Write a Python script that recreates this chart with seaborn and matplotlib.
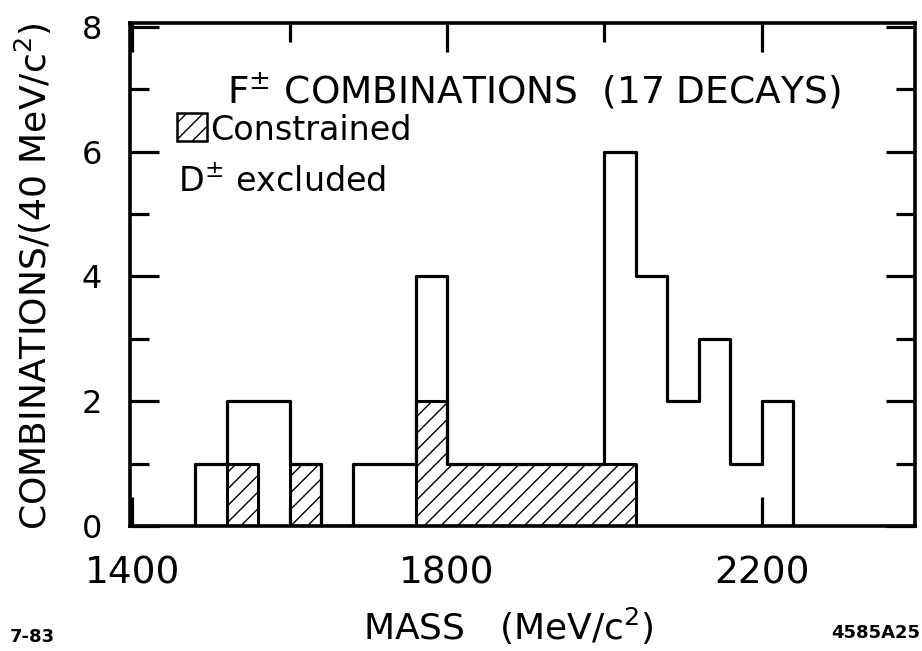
import numpy as np
import pandas as pd
import matplotlib
matplotlib.use("Agg")
import matplotlib.pyplot as plt
import seaborn as sns
from matplotlib.patches import Rectangle
from matplotlib.ticker import FixedLocator

# ---- data ----
bin_low = [1480, 1520, 1560, 1600, 1640, 1680, 1720, 1760, 1800, 1840,
           1880, 1920, 1960, 2000, 2040, 2080, 2120, 2160, 2200]
bin_width = 40
all_counts = [1, 2, 2, 1, 0, 1, 1, 4, 1, 1, 1, 1, 1, 6, 4, 2, 3, 1, 2]
constrained_counts = [0, 1, 0, 1, 0, 0, 0, 2, 1, 1, 1, 1, 1, 1, 0, 0, 0, 0, 0]
x_major_ticks = [1400, 1800, 2200]
x_minor_ticks = [1600, 2000]
y_major_ticks = [0, 2, 4, 6, 8]
y_minor_ticks = [1, 3, 5, 7]

sns.set_style("ticks")
plt.rcParams['font.family'] = ['DejaVu Sans']
plt.rcParams['hatch.linewidth'] = 1.0
plt.rcParams['mathtext.fontset'] = 'dejavusans'
for k in ['text.color', 'axes.labelcolor', 'xtick.color', 'ytick.color', 'axes.edgecolor']:
    plt.rcParams[k] = 'black'

df = pd.DataFrame({
    "mass": np.array(bin_low) + bin_width / 2,
    "all": all_counts,
    "constrained": constrained_counts,
})
edges = list(bin_low) + [bin_low[-1] + bin_width]

fig = plt.figure(figsize=(9.22, 6.51), dpi=100)
ax = fig.add_axes([130 / 922, 1 - 526 / 651, (915 - 130) / 922, (526 - 23) / 651])

sns.histplot(data=df, x="mass", weights="constrained", bins=edges,
             element="step", fill=True, color="black", facecolor="white",
             edgecolor="black", hatch="//", linewidth=2.2, ax=ax)
sns.histplot(data=df, x="mass", weights="all", bins=edges,
             element="step", fill=True, color="black", facecolor="none",
             edgecolor="black", linewidth=2.3, ax=ax)

ax.set_xlim(1397, 2395)
ax.set_ylim(0, 8.06)
ax.xaxis.set_major_locator(FixedLocator(x_major_ticks))
ax.xaxis.set_minor_locator(FixedLocator(x_minor_ticks))
ax.yaxis.set_major_locator(FixedLocator(y_major_ticks))
ax.yaxis.set_minor_locator(FixedLocator(y_minor_ticks))
ax.tick_params(which='both', direction='in', top=True, right=True,
               width=2.3, color='black')
ax.tick_params(which='major', length=21)
ax.tick_params(which='minor', length=14)
ax.tick_params(axis='x', labelsize=27, pad=21)
ax.tick_params(axis='y', labelsize=23, pad=20)
for s in ax.spines.values():
    s.set_linewidth(2.6)
    s.set_color('black')

ax.set_ylabel("COMBINATIONS/(40 MeV/c$^2$)", fontsize=26)
ax.yaxis.set_label_coords(-0.097, 0.497)
ax.set_xlabel("MASS   (MeV/c$^2$)", fontsize=26)
ax.xaxis.set_label_coords(0.4815, -0.158)

ax.text(0.1236, 0.839, "F$^{\\pm}$ COMBINATIONS  (17 DECAYS)", transform=ax.transAxes,
        fontsize=27, ha='left', va='baseline')
ax.add_patch(Rectangle((0.0599, 0.765), 0.038, 0.0557, transform=ax.transAxes,
                       facecolor='white', edgecolor='black', hatch='//', linewidth=1.8))
ax.text(0.102, 0.767, "Constrained", transform=ax.transAxes,
        fontsize=24, ha='left', va='baseline')
ax.text(0.061, 0.665, "D$^{\\pm}$ excluded", transform=ax.transAxes,
        fontsize=24, ha='left', va='baseline')

fig.text(10 / 922, 1 - 637 / 651, "7-83", fontsize=13, fontweight='bold', ha='left', va='center')
fig.text(920 / 922, 1 - 633 / 651, "4585A25", fontsize=13, fontweight='bold', ha='right', va='center')

fig.savefig("out.png", dpi=100)
